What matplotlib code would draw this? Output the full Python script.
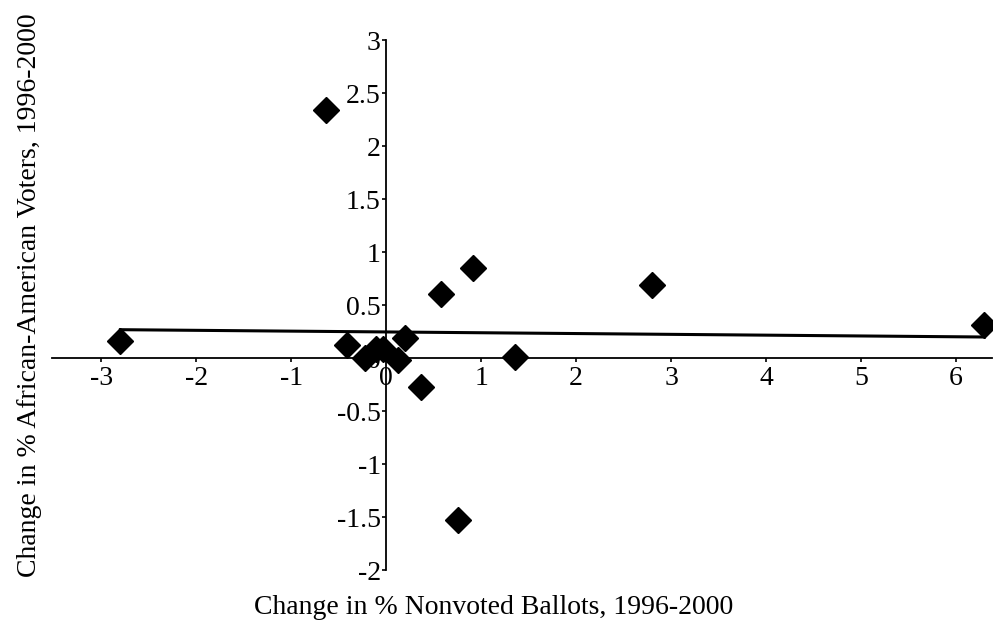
import matplotlib
matplotlib.use("Agg")
import matplotlib.pyplot as plt
import numpy as np

x_vals = [-0.63, -2.80, -0.41, -0.22, -0.11, -0.03, 0.12, 0.20, 0.37, 0.58, 0.91, 0.76, 1.36, 2.80, 6.30]
y_vals = [2.34, 0.16, 0.12, 0.00, 0.085, 0.085, -0.02, 0.19, -0.27, 0.60, 0.85, -1.53, 0.01, 0.69, 0.31]
x_ticks = [-3, -2, -1, 0, 1, 2, 3, 4, 5, 6]
y_ticks = [-2, -1.5, -1, -0.5, 0, 0.5, 1, 1.5, 2, 2.5, 3]
y_tick_labels = ["-2", "-1.5", "-1", "-0.5", "0", "0.5", "1", "1.5", "2", "2.5", "3"]

plt.rcParams['font.family'] = ['Liberation Serif', 'DejaVu Serif']

fig = plt.figure(figsize=(9.95, 6.3), dpi=100)
ax = fig.add_axes([0.0523, 0.0952, 0.9447, 0.8413])

x = np.array(x_vals)
y = np.array(y_vals)
coef = np.polyfit(x, y, 1)
tx = np.array([x.min(), x.max()])
ax.plot(tx, np.polyval(coef, tx), color='black', lw=2.2, zorder=2)
ax.plot(x, y, linestyle='none', marker='D', ms=13, color='black', zorder=3)

ax.set_xlim(-3.52, 6.38)
ax.set_ylim(-2, 3)
for s in ['top', 'right']:
    ax.spines[s].set_visible(False)
ax.spines['left'].set_position(('data', 0))
ax.spines['bottom'].set_position(('data', 0))
ax.spines['left'].set_linewidth(1.3)
ax.spines['bottom'].set_linewidth(1.3)
ax.set_xticks(x_ticks)
ax.set_xticklabels([str(t) for t in x_ticks])
ax.set_yticks(y_ticks)
ax.set_yticklabels(y_tick_labels)
ax.tick_params(axis='both', labelsize=20, length=3, width=1.2, direction='out')
ax.tick_params(axis='y', pad=1)
ax.tick_params(axis='x', pad=3)
ax.patch.set_visible(False)

fig.text(0.4965, 0.035, "Change in % Nonvoted Ballots, 1996-2000", ha='center', va='center', fontsize=20)
fig.text(0.03, 0.532, "Change in % African-American Voters, 1996-2000", ha='center', va='center', rotation=90, fontsize=20)

fig.savefig("out.png", dpi=100)
